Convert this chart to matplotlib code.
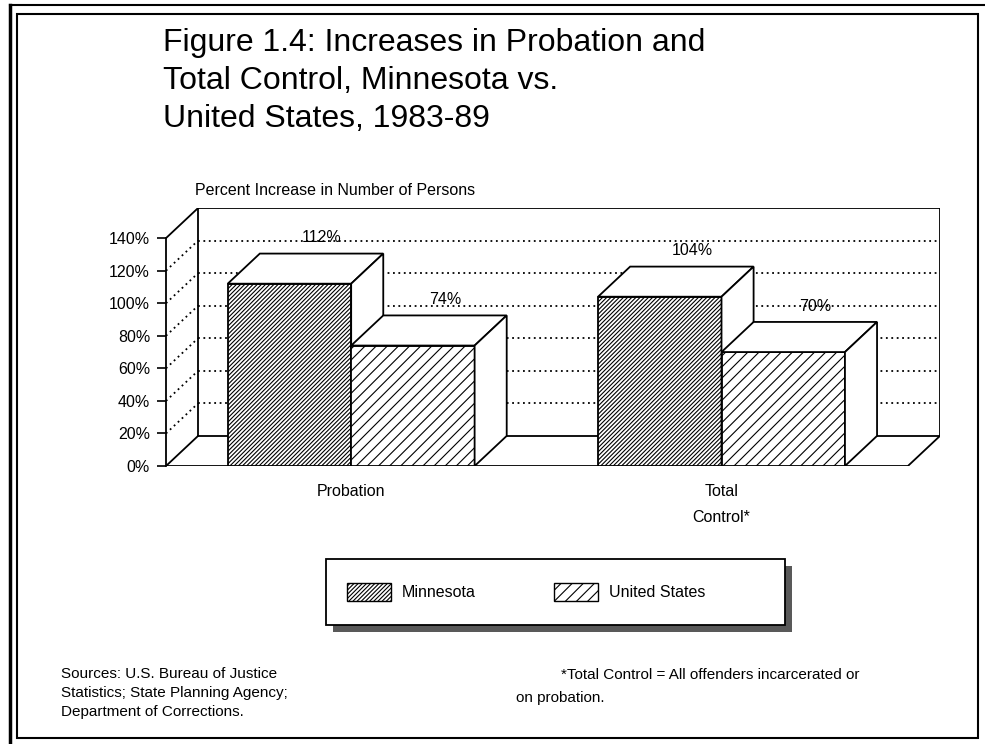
import matplotlib
matplotlib.use('Agg')
import matplotlib.pyplot as plt
from matplotlib.patches import Patch, Rectangle
from matplotlib.lines import Line2D

plt.rcParams['font.family'] = ['Liberation Sans', 'DejaVu Sans']
plt.rcParams['hatch.linewidth'] = 0.8

# data
categories = ['Probation', 'Total\nControl*']
series = ['Minnesota', 'United States']
minnesota = [112, 104]
united_states = [74, 70]
yticks = [0, 20, 40, 60, 80, 100, 120, 140]
ytick_labels = ['0%', '20%', '40%', '60%', '80%', '100%', '120%', '140%']
title_lines = ['Figure 1.4: Increases in Probation and',
               'Total Control, Minnesota vs.',
               'United States, 1983-89']
ylabel = 'Percent Increase in Number of Persons'
sources = ['Sources: U.S. Bureau of Justice',
           'Statistics; State Planning Agency;',
           'Department of Corrections.']
note_lines = ['*Total Control = All offenders incarcerated or',
              'on probation.']

W, H = 985, 744
fig = plt.figure(figsize=(9.85, 7.44), dpi=100)


def fx(x):
    return x / W


def fy(y):
    return 1 - y / H


# fake 3d box: depth offset in data units
depth_x, depth_y = 0.26, 18.5
ymax = 140
x_front = 6.01

ax = fig.add_axes([fx(166), fy(466), fx(940) - fx(166), fy(208) - fy(466)])
ax.set_xlim(0, x_front + depth_x)
ax.set_ylim(0, ymax + depth_y)
ax.patch.set_visible(False)
for s in ['top', 'right', 'bottom']:
    ax.spines[s].set_visible(False)
ax.spines['left'].set_bounds(0, ymax)
ax.spines['left'].set_linewidth(1.3)

solid = dict(color='black', lw=1.3, zorder=2)
dots = dict(color='black', lw=1.3, ls=(0, (1, 2.0)), zorder=1)

# back wall and floor
ax.plot([depth_x, depth_x, x_front + depth_x, x_front + depth_x],
        [depth_y, ymax + depth_y, ymax + depth_y, depth_y], **solid)
ax.plot([depth_x, x_front + depth_x], [depth_y, depth_y], **solid)
ax.plot([0, depth_x], [ymax, ymax + depth_y], **solid)
ax.plot([0, depth_x], [0, depth_y], **solid)
ax.plot([0, x_front, x_front + depth_x], [0, 0, depth_y], **solid)
for t in yticks[1:-1]:
    ax.plot([depth_x, x_front + depth_x], [t + depth_y, t + depth_y], **dots)
    ax.plot([0, depth_x], [t, t + depth_y], **dots)

ax.set_yticks(yticks, ytick_labels, fontsize=11.5)
ax.tick_params(axis='y', length=6.5, width=1.2, pad=5)

centers = [1.5, 4.5]
ax.set_xticks(centers, categories, fontsize=11.5)
ax.tick_params(axis='x', length=0, pad=13)
for lbl in ax.get_xticklabels():
    lbl.set_linespacing(1.9)

hatches = ['////////', '///']
for i, c in enumerate(centers):
    for j, vals in enumerate([minnesota, united_states]):
        v = vals[i]
        left = c - 1 + j
        z = 3 + 2 * i + j
        ax.bar(left, v, width=1, align='edge', facecolor='white',
               edgecolor='black', hatch=hatches[j], lw=1.3, zorder=z)
        ax.fill([left, left + 1, left + 1 + depth_x, left + depth_x],
                [v, v, v + depth_y, v + depth_y],
                fc='white', ec='black', lw=1.3, zorder=z)
        ax.fill([left + 1, left + 1 + depth_x, left + 1 + depth_x, left + 1],
                [0, depth_y, v + depth_y, v],
                fc='white', ec='black', lw=1.3, zorder=z)
        ax.text(left + 0.5 + depth_x, v + depth_y + 5, f'{v}%',
                ha='center', va='bottom', fontsize=11.5, zorder=20)

# titles and notes
for k, line in enumerate(title_lines):
    fig.text(fx(163), fy(51 + 38 * k), line, fontsize=23, va='baseline')
fig.text(fx(195), fy(195), ylabel, fontsize=11.5, va='baseline')
for k, line in enumerate(sources):
    fig.text(fx(61), fy(678 + 19 * k), line, fontsize=11, va='baseline')
fig.text(fx(561), fy(679), note_lines[0], fontsize=11, va='baseline')
fig.text(fx(516), fy(702), note_lines[1], fontsize=11, va='baseline')

# legend box with shadow
fig.patches.append(Rectangle((fx(333), fy(632)), fx(792) - fx(333), fy(566) - fy(632),
                             transform=fig.transFigure, fc='0.35', ec='none', zorder=1))
fig.patches.append(Rectangle((fx(326), fy(625)), fx(785) - fx(326), fy(559) - fy(625),
                             transform=fig.transFigure, fc='white', ec='black', lw=1.3, zorder=2))
handles = [Patch(facecolor='white', edgecolor='black', hatch=hatches[j], label=series[j])
           for j in range(2)]
fig.legend(handles=handles, loc='center left', bbox_to_anchor=(fx(347), fy(592)),
           ncol=2, frameon=False, fontsize=11.5, borderpad=0, borderaxespad=0,
           handlelength=2.75, handleheight=1.3, handletextpad=0.7, columnspacing=4.9)

# page border
fig.patches.append(Rectangle((fx(17), fy(738)), fx(978) - fx(17), fy(14) - fy(738),
                             transform=fig.transFigure, fill=False, ec='black', lw=1.5, zorder=3))
fig.lines.append(Line2D([fx(10), fx(10)], [fy(5), 0], transform=fig.transFigure, color='black', lw=2.5))
fig.lines.append(Line2D([fx(10), 1], [fy(5), fy(5)], transform=fig.transFigure, color='black', lw=1.5))

fig.savefig('out.png', dpi=100)
